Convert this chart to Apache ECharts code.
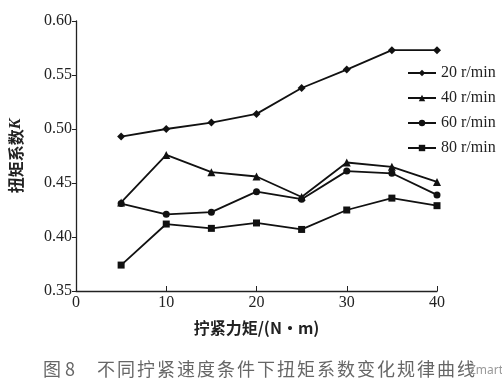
<!DOCTYPE html>
<html><head><meta charset="utf-8">
<script src="https://cdn.jsdelivr.net/npm/echarts@6/dist/echarts.min.js"></script>
<style>html,body{margin:0;padding:0;background:#fff}#c{width:502px;height:392px}</style>
</head><body><div id="c"></div>
<script>
const torque = [5, 10, 15, 20, 25, 30, 35, 40];
const seriesNames = ['20 r/min', '40 r/min', '60 r/min', '80 r/min'];
const k20 = [0.493, 0.500, 0.506, 0.514, 0.538, 0.555, 0.573, 0.573];
const k40 = [0.432, 0.476, 0.460, 0.456, 0.437, 0.469, 0.465, 0.451];
const k60 = [0.431, 0.421, 0.423, 0.442, 0.435, 0.461, 0.459, 0.439];
const k80 = [0.374, 0.412, 0.408, 0.413, 0.407, 0.425, 0.436, 0.429];
const symbols = ['diamond', 'triangle', 'circle', 'rect'];
const symbolSizes = [8, 8, 7, 7];
const allK = [k20, k40, k60, k80];
const captionLabel = '图 8';
const captionText = '不同拧紧速度条件下扭矩系数变化规律曲线';

const serif = '"Liberation Serif","DejaVu Serif",serif';
const cjk = '"Noto Sans CJK SC","Noto Sans",sans-serif';

const captionGraphics = [{
  type: 'text', left: 43, top: 360,
  style: { text: captionLabel, fill: '#666', font: '18px "Noto Sans CJK SC", sans-serif' }
}].concat(captionText.split('').map((ch, i) => ({
  type: 'text', left: 97 + i * 20, top: 360,
  style: { text: ch, fill: '#666', font: '18px "Noto Sans CJK SC", sans-serif' }
})));

const chart = echarts.init(document.getElementById('c'));
chart.setOption({
  animation: false,
  backgroundColor: '#fff',
  grid: { left: 76, top: 21, right: 65, bottom: 101, outerBoundsMode: 'none' },
  legend: {
    orient: 'vertical', left: 402, top: 60,
    itemWidth: 28, itemHeight: 8, itemGap: 9,
    textStyle: { fontFamily: serif, fontSize: 16, color: '#222' },
    data: seriesNames
  },
  xAxis: {
    type: 'value', min: 0, max: 40, interval: 10,
    name: '拧紧力矩/(N·m)', nameLocation: 'middle', nameGap: 29,
    nameTextStyle: { fontFamily: cjk, fontSize: 16, fontWeight: 'bold', color: '#222' },
    axisLine: { lineStyle: { color: '#222', width: 1.3 } },
    axisTick: { inside: true, length: 5, lineStyle: { color: '#222' } },
    axisLabel: { fontFamily: serif, fontSize: 16, color: '#222', margin: 4 },
    splitLine: { show: false }
  },
  yAxis: {
    type: 'value', min: 0.35, max: 0.60, interval: 0.05,
    name: '扭矩系数{i|K}', nameLocation: 'middle', nameGap: 52, nameRotate: 90,
    nameTextStyle: { fontFamily: cjk, fontSize: 16, fontWeight: 'bold', color: '#222',
      rich: { i: { fontFamily: serif, fontStyle: 'italic', fontSize: 16, color: '#222' } } },
    axisLine: { show: true, lineStyle: { color: '#222', width: 1.3 } },
    axisTick: { show: true, length: 4, lineStyle: { color: '#222' } },
    axisLabel: { fontFamily: serif, fontSize: 16, color: '#222', margin: 4,
      formatter: v => v.toFixed(2) },
    splitLine: { show: false }
  },
  graphic: captionGraphics.concat([{
    type: 'text', left: 469, top: 365,
    style: { text: 'Zmart', fill: '#999', font: '12px "Noto Sans", sans-serif' }
  }]),
  series: seriesNames.map((n, i) => ({
    name: n, type: 'line',
    data: torque.map((t, j) => [t, allK[i][j]]),
    symbol: symbols[i], symbolSize: symbolSizes[i],
    lineStyle: { color: '#111', width: 1.8 },
    itemStyle: { color: '#111' }
  }))
});
</script></body></html>
